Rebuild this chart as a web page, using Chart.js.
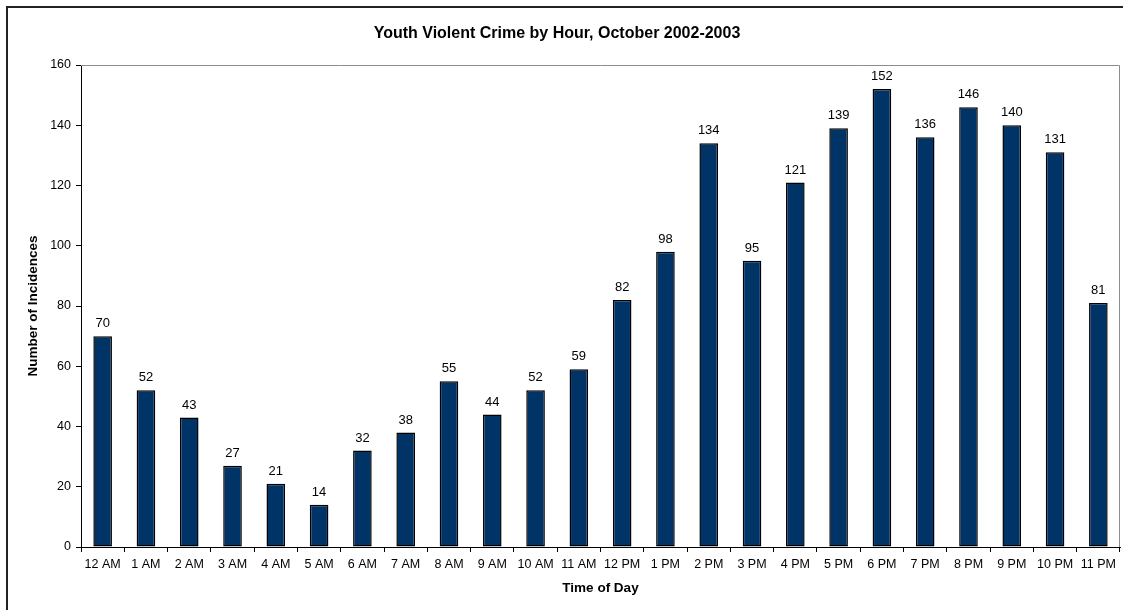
<!DOCTYPE html>
<html>
<head>
<meta charset="utf-8">
<title>Youth Violent Crime by Hour</title>
<script src="https://cdn.jsdelivr.net/npm/chart.js@4/dist/chart.umd.min.js"></script>
<style>
  html, body { margin: 0; padding: 0; background: #fff; }
  #wrap { width: 1123px; height: 610px; }
</style>
</head>
<body>
<div id="wrap"><canvas id="grafico" width="1123" height="610"></canvas></div>
<script>
const titulo = 'Youth Violent Crime by Hour, October 2002-2003'
const horas = [
  '12 AM', '1 AM', '2 AM', '3 AM', '4 AM', '5 AM', '6 AM', '7 AM', '8 AM', '9 AM', '10 AM', '11 AM',
  '12 PM', '1 PM', '2 PM', '3 PM', '4 PM', '5 PM', '6 PM', '7 PM', '8 PM', '9 PM', '10 PM', '11 PM'
]
const incidencias = [70, 52, 43, 27, 21, 14, 32, 38, 55, 44, 52, 59, 82, 98, 134, 95, 121, 139, 152, 136, 146, 140, 131, 81]
const marcasY = [0, 20, 40, 60, 80, 100, 120, 140, 160]

const fonte = 'Arial, "Liberation Sans", sans-serif'

// moldura externa, titulo, borda cinza do plot e valores em cima das barras
const extras = {
  id: 'extras',
  beforeDraw(chart) {
    const ctx = chart.ctx
    ctx.save()
    ctx.fillStyle = '#fff'
    ctx.fillRect(0, 0, chart.width, chart.height)
    ctx.strokeStyle = '#222'
    ctx.lineWidth = 2
    ctx.strokeRect(7, 7, chart.width + 20, chart.height + 20)

    ctx.fillStyle = '#000'
    ctx.font = 'bold 16px ' + fonte
    ctx.textAlign = 'center'
    ctx.textBaseline = 'middle'
    ctx.fillText(titulo, 557, 34)
    ctx.restore()
  },
  afterDatasetsDraw(chart) {
    const ctx = chart.ctx
    const area = chart.chartArea
    ctx.save()
    ctx.strokeStyle = '#8c8c8c'
    ctx.lineWidth = 1
    ctx.beginPath()
    ctx.moveTo(area.left, area.top + 0.5)
    ctx.lineTo(area.right - 0.5, area.top + 0.5)
    ctx.lineTo(area.right - 0.5, area.bottom)
    ctx.stroke()

    ctx.fillStyle = '#000'
    ctx.font = '13px ' + fonte
    ctx.textAlign = 'center'
    ctx.textBaseline = 'bottom'
    chart.getDatasetMeta(0).data.forEach((barra, i) => {
      ctx.fillText(String(incidencias[i]), barra.x, barra.y - 6)
    })
    ctx.restore()
  }
}

let contexto = document.getElementById('grafico').getContext('2d')

let grafico = new Chart(contexto, {
  type: 'bar',
  data: {
    labels: horas,
    datasets: [{
      label: 'Incidences',
      data: incidencias,
      backgroundColor: '#003366',
      borderColor: '#000',
      borderWidth: 1.5,
      borderSkipped: false,
      barPercentage: 0.43,
      categoryPercentage: 1
    }]
  },
  options: {
    responsive: false,
    animation: false,
    layout: { padding: { left: 0, right: 3, top: 65, bottom: 0 } },
    plugins: {
      legend: { display: false },
      tooltip: { enabled: false },
      title: { display: false }
    },
    scales: {
      x: {
        afterFit(scale) { scale.height = 63 },
        grid: { drawOnChartArea: false, drawTicks: true, tickLength: 5, color: '#000', offset: true },
        border: { display: true, color: '#000' },
        ticks: {
          color: '#000',
          font: { family: fonte, size: 12.5 },
          padding: 5,
          maxRotation: 0,
          autoSkip: false
        },
        title: {
          display: true,
          text: 'Time of Day',
          color: '#000',
          font: { family: fonte, size: 13.5, weight: 'bold' },
          padding: { top: 0, bottom: 14 }
        }
      },
      y: {
        min: 0,
        max: 160,
        afterFit(scale) { scale.width = 81 },
        afterBuildTicks(scale) { scale.ticks = marcasY.map(v => ({ value: v })) },
        grid: { drawOnChartArea: false, drawTicks: true, tickLength: 5, color: '#000' },
        border: { display: true, color: '#000' },
        ticks: {
          color: '#000',
          font: { family: fonte, size: 12.5 },
          padding: 5
        },
        title: {
          display: true,
          text: 'Number of Incidences',
          color: '#000',
          font: { family: fonte, size: 13.5, weight: 'bold' },
          padding: { top: 25, bottom: 0 }
        }
      }
    }
  },
  plugins: [extras]
})
</script>
</body>
</html>
